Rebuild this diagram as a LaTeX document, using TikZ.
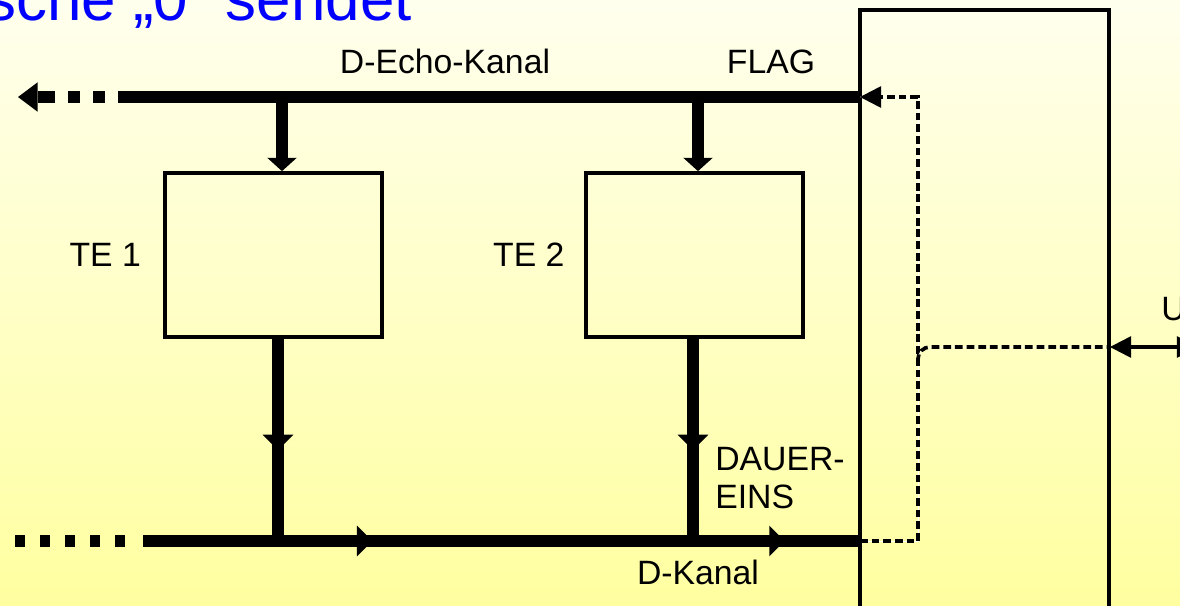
\documentclass[tikz,border=0pt]{standalone}
\usepackage{fontspec}
\setmainfont{Liberation Sans}
\usetikzlibrary{arrows.meta, positioning, decorations.markings}
\definecolor{paperhi}{HTML}{FFFFEE}
\definecolor{paperlo}{HTML}{FFFFA0}
\definecolor{headblue}{HTML}{0000FF}
\definecolor{ink}{HTML}{000000}

\begin{document}
\begin{tikzpicture}[
    x=0.025cm, y=-0.025cm,
    every node/.style={font=\fontsize{24}{27}\selectfont, inner sep=0pt, text=ink},
    dropTip/.tip={Triangle[length=9.5pt, width=21pt, line width=0pt]},
    midTip/.tip={Triangle[length=11pt, width=22pt, line width=0pt]},
    backTip/.tip={Triangle[length=14pt, width=21pt, line width=0pt]},
    flagTip/.tip={Triangle[length=15pt, width=15.5pt, line width=0pt]},
    te/.style={rectangle, draw=ink, line width=2.6pt,
               minimum width=5.425cm, minimum height=4.1cm},
    ntbox/.style={rectangle, draw=ink, line width=2.6pt,
                  minimum width=6.225cm, minimum height=16.25cm},
    bus/.style={draw=ink, line width=8pt},
    sig/.style={draw=ink, line width=2.6pt, dash pattern=on 5.5pt off 2.8pt,
                preaction={draw=white, solid}},
    uline/.style={draw=ink, line width=2.6pt},
    mid arrow/.style={postaction={decorate, decoration={markings,
                      mark=at position #1 with {\arrow{midTip}}}}}
  ]
    \useasboundingbox (0,0) rectangle (1180,606);
    \clip (0,0) rectangle (1180,606);
    \fill[top color=paperhi, bottom color=paperlo] (0,0) rectangle (1180,606);

    \node[anchor=base east, font=\fontsize{44}{50}\selectfont, text=headblue] (title) at (412,20) {sche „0“ sendet};

    \node[ntbox] (nt) at (984.5,335) {};
    \node[te] (te1) at (273.5,255) {};
    \node[te, right=5cm of te1] (te2) {};
    \node[left=0.55cm of te1] (te1lbl) {TE 1};
    \node[left=0.48cm of te2] (te2lbl) {TE 2};

    \coordinate (echoL) at (118,97);
    \coordinate (echoR) at (860,97);
    \coordinate (echoDashA) at (105,97);
    \coordinate (echoDashB) at (68,97);
    \coordinate (echoStem) at (55,97);
    \coordinate (echoTip) at (18,97);
    \coordinate (dL) at (143,541);
    \coordinate (dR) at (860,541);
    \coordinate (dotsR) at (125,541);
    \coordinate (dotsL) at (15,541);
    \coordinate (tap1) at (282,97);
    \coordinate (tap2) at (698,97);
    \coordinate (join1) at (278,541);
    \coordinate (join2) at (693,541);
    \coordinate (turn) at (918,97);
    \coordinate (ubr) at (918,362);
    \coordinate (uin) at (1110,347);
    \coordinate (uout) at (1198,347);

    \draw[bus] (echoL) -- (echoR);
    \draw[bus, dash pattern=on 8.5pt off 9.2pt] (echoDashA) -- (echoDashB);
    \draw[bus, -backTip] (echoStem) -- (echoTip);
    \draw[bus, dash pattern=on 7.1pt off 10.7pt] (dotsR) -- (dotsL);

    \draw[bus, -dropTip] (tap1) -- (tap1 |- te1.north);
    \draw[bus, -dropTip] (tap2) -- (tap2 |- te2.north);
    \draw[bus, mid arrow=0.55] (join1 |- te1.south) -- (join1);
    \draw[bus, mid arrow=0.55] (join2 |- te2.south) -- (join2);
    \draw[bus, mid arrow=0.32, mid arrow=0.895] (dL) -- (dR);

    \draw[sig, -flagTip] (dR) -| (turn) -- (echoR);
    \draw[sig, rounded corners=8.5pt] (ubr) |- (uin);
    \draw[uline, flagTip-flagTip] (uin) -- (uout);

    \node[anchor=base] (echolbl) at (445,73) {D-Echo-Kanal};
    \node[anchor=base] (flaglbl) at (771,73) {FLAG};
    \node[anchor=north west, align=left] (dauer) at (715,447) {DAUER-\\EINS};
    \node[anchor=north] (dlbl) at (698,560) {D-Kanal};
    \node[anchor=base west] (ulbl) at (1161,320) {U};
\end{tikzpicture}
\end{document}
